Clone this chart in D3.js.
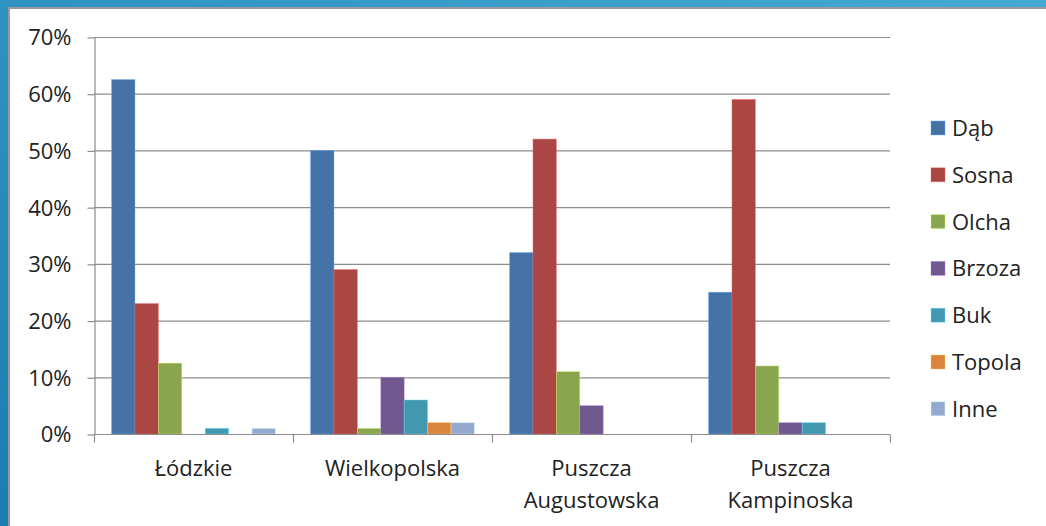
<!DOCTYPE html>
<html>
<head>
<meta charset="utf-8">
<script src="https://cdn.jsdelivr.net/npm/d3@7"></script>
<style>
  body { margin: 0; background: #fff; }
  svg { display: block; }
</style>
</head>
<body>
<svg id="chart" width="1046" height="526"></svg>
<script>
// categories on the x axis (second line of label after "|")
const regions = ["Łódzkie", "Wielkopolska", "Puszcza|Augustowska", "Puszcza|Kampinoska"];
const species = ["Dąb", "Sosna", "Olcha", "Brzoza", "Buk", "Topola", "Inne"];
const colors = ["#4572A7", "#AA4643", "#89A54E", "#71588F", "#4198AF", "#DB843D", "#93A9CF"];

// share of each species per region (%)
const dab    = [62.5, 50, 32, 25];
const sosna  = [23, 29, 52, 59];
const olcha  = [12.5, 1, 11, 12];
const brzoza = [0, 10, 5, 2];
const buk    = [1, 6, 0, 2];
const topola = [0, 2, 0, 0];
const inne   = [1, 2, 0, 0];
const series = [dab, sosna, olcha, brzoza, buk, topola, inne];
const yTicks = [0, 10, 20, 30, 40, 50, 60, 70];

const W = 1046, H = 526;
const svg = d3.select("#chart");

// blue slide frame behind the white chart area
const grad = svg.append("defs").append("linearGradient")
    .attr("id", "frame").attr("x1", 0).attr("y1", 1).attr("x2", 1).attr("y2", 0);
grad.append("stop").attr("offset", "0%").attr("stop-color", "#1a7db0");
grad.append("stop").attr("offset", "100%").attr("stop-color", "#44a9d4");
svg.append("rect").attr("width", W).attr("height", H).attr("fill", "url(#frame)");
svg.append("rect").attr("x", 8).attr("y", 7).attr("width", W).attr("height", H)
    .attr("fill", "#9a9a9a");
svg.append("rect").attr("x", 10).attr("y", 9).attr("width", W).attr("height", H)
    .attr("fill", "#fff");

const plot = {left: 94, right: 890, top: 37, bottom: 434};

const x = d3.scaleBand().domain(regions).range([plot.left, plot.right]);
const xs = d3.scaleBand().domain(species).range([0, x.bandwidth()])
    .paddingInner(0).paddingOuter(0.75);
const y = d3.scaleLinear().domain([0, 70]).range([plot.bottom, plot.top]);

const font = "'Open Sans', 'Noto Sans', sans-serif";
const fs = 22;

// gridlines
svg.append("g")
    .selectAll("line")
    .data(yTicks.filter(d => d > 0))
    .enter().append("line")
    .attr("x1", plot.left).attr("x2", plot.right)
    .attr("y1", d => y(d) + 0.5).attr("y2", d => y(d) + 0.5)
    .attr("stroke", "#8c8c8c").attr("stroke-width", 1.2);

// y axis
const yAxis = svg.append("g")
    .attr("transform", `translate(${plot.left + 0.5},0)`)
    .call(d3.axisLeft(y).tickValues(yTicks).tickSize(7).tickSizeOuter(0).tickPadding(16)
        .tickFormat(d => d + "%"));
yAxis.select(".domain").attr("stroke", "#8c8c8c").attr("stroke-width", 1.2);
yAxis.selectAll(".tick line").attr("stroke", "#8c8c8c").attr("stroke-width", 1.2)
    .attr("transform", "translate(0,0.5)");
yAxis.selectAll(".tick text")
    .attr("font-family", font).attr("font-size", fs).attr("fill", "#222")
    .attr("dy", "0.36em");

// bars
const groups = svg.append("g")
    .selectAll("g")
    .data(regions)
    .enter().append("g")
    .attr("transform", d => `translate(${x(d)},0)`);

groups.selectAll("rect")
    .data((r, i) => species.map((s, j) => ({s, v: series[j][i], c: colors[j]})))
    .enter().append("rect")
    .filter(d => d.v > 0)
    .attr("x", d => xs(d.s))
    .attr("y", d => y(d.v))
    .attr("width", xs.bandwidth())
    .attr("height", d => y(0) - y(d.v))
    .attr("fill", d => d.c)
    .attr("stroke", d => d3.color(d.c).brighter(1.2))
    .attr("stroke-opacity", 0.5)
    .attr("stroke-width", 0.8);

// x axis
const xAxisG = svg.append("g")
    .attr("transform", `translate(0,${plot.bottom + 0.5})`);
xAxisG.append("line")
    .attr("x1", plot.left).attr("x2", plot.right)
    .attr("stroke", "#8c8c8c").attr("stroke-width", 1.2);
xAxisG.selectAll("line.tk")
    .data(regions.map(r => x(r)).concat([plot.right]))
    .enter().append("line")
    .attr("class", "tk")
    .attr("x1", d => d + 0.5).attr("x2", d => d + 0.5)
    .attr("y1", 0).attr("y2", 8)
    .attr("stroke", "#8c8c8c").attr("stroke-width", 1.2);

const labels = svg.append("g")
    .attr("font-family", font).attr("font-size", fs).attr("fill", "#222")
    .attr("text-anchor", "middle")
    .selectAll("text")
    .data(regions)
    .enter().append("text")
    .attr("x", d => x(d) + x.bandwidth() / 2)
    .attr("y", 476);
labels.selectAll("tspan")
    .data(d => d.split("|"))
    .enter().append("tspan")
    .attr("x", function() { return this.parentNode.getAttribute("x"); })
    .attr("dy", (d, i) => i === 0 ? 0 : 32)
    .text(d => d);

// legend
const legend = svg.append("g")
    .selectAll("g")
    .data(species)
    .enter().append("g")
    .attr("transform", (d, i) => `translate(931,${128 + i * 46.8})`);
legend.append("rect")
    .attr("x", 0).attr("y", -7)
    .attr("width", 14).attr("height", 14)
    .attr("fill", (d, i) => colors[i])
    .attr("stroke", (d, i) => d3.color(colors[i]).brighter(1.2))
    .attr("stroke-opacity", 0.5)
    .attr("stroke-width", 0.8);
legend.append("text")
    .attr("x", 21).attr("dy", "0.36em")
    .attr("font-family", font).attr("font-size", fs).attr("fill", "#222")
    .text(d => d);
</script>
</body>
</html>
